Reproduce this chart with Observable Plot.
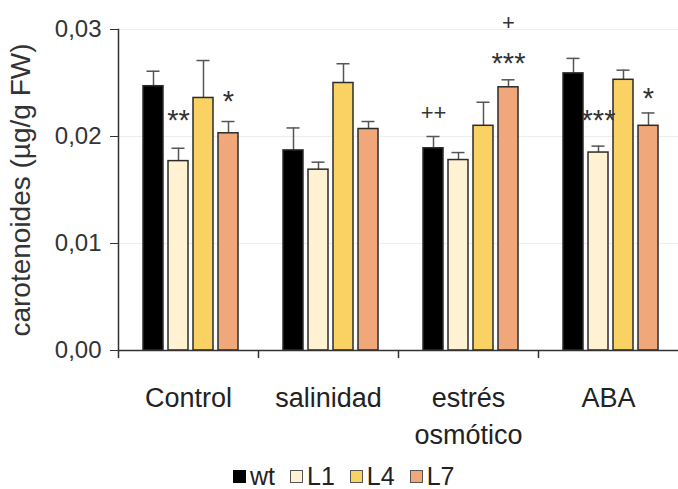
<!DOCTYPE html>
<html><head><meta charset="utf-8">
<script src="https://cdn.jsdelivr.net/npm/d3@7"></script>
<script src="https://cdn.jsdelivr.net/npm/@observablehq/plot@0.6"></script>
<style>
body{margin:0;background:#fff;font-family:"Liberation Sans",Arial,sans-serif;}
#legend{display:flex;align-items:center;padding-left:233px;height:32px;margin-top:5px;font-size:25px;color:#222;}
.item{display:flex;align-items:center;margin-right:15px;}
.sw{width:11px;height:11px;border:1.5px solid #333;margin-right:4px;}
</style></head><body><div id="chart"></div><div id="legend"></div><script>
const categories = ["Control", "salinidad", "estrés osmótico", "ABA"];
const series = ["wt", "L1", "L4", "L7"];
const colors = ["#000000", "#FFF2D3", "#FAD264", "#F0A87A"];
const wt = [0.0247, 0.0187, 0.0189, 0.0259];
const L1 = [0.0177, 0.0169, 0.0178, 0.0185];
const L4 = [0.0236, 0.0250, 0.0210, 0.0253];
const L7 = [0.0203, 0.0207, 0.0246, 0.0210];
const wtErr = [0.0014, 0.0021, 0.0011, 0.0014];
const L1Err = [0.0012, 0.0007, 0.0007, 0.0006];
const L4Err = [0.0035, 0.0018, 0.0022, 0.0009];
const L7Err = [0.0011, 0.0007, 0.0007, 0.0012];
const yTicks = [0, 0.01, 0.02, 0.03];
const annotCategory = ["Control", "Control", "estrés osmótico", "estrés osmótico", "estrés osmótico", "ABA", "ABA"];
const annotSeries = ["L1", "L7", "wt", "L7", "L7", "L1", "L7"];
const annotLabel = ["**", "*", "++", "***", "+", "***", "*"];
const annotValue = [0.0220, 0.0238, 0.0222, 0.0274, 0.0306, 0.0220, 0.0241];

const vals = [wt, L1, L4, L7];
const errs = [wtErr, L1Err, L4Err, L7Err];
const rows = [];
categories.forEach((c, i) => series.forEach((s, j) => rows.push({category: c, series: s, value: vals[j][i], err: errs[j][i]})));
const annots = annotLabel.map((l, i) => ({category: annotCategory[i], series: annotSeries[i], label: l, value: annotValue[i]}));

const W = 678, H = 455, ML = 118;
const loc = d3.formatLocale({decimal: ",", thousands: "."});
const fmt = loc.format(".2f");
const half = (W - ML) / categories.length / 2;

const chart = Plot.plot({
  width: W, height: H, marginLeft: ML, marginRight: 0, marginTop: 29, marginBottom: H - 350,
  style: {fontFamily: "'Liberation Sans', Arial, sans-serif", background: "white", overflow: "visible"},
  fx: {domain: categories, padding: 0, label: null},
  x: {domain: series, paddingInner: 0.2, paddingOuter: 0.9, align: 0.55, axis: null},
  y: {domain: [0, 0.03]},
  color: {domain: series, range: colors},
  marks: [
    Plot.ruleY([0.01, 0.02, 0.03], {stroke: "#eeeeee", strokeWidth: 1}),
    Plot.ruleX(rows, {fx: "category", x: "series", y1: "value", y2: d => d.value + d.err, stroke: "#555", strokeWidth: 1.5}),
    Plot.tickY(rows, {fx: "category", x: "series", y: d => d.value + d.err, stroke: "#555", strokeWidth: 1.5, insetLeft: 3.5, insetRight: 3.5}),
    Plot.barY(rows, {fx: "category", x: "series", y: "value", fill: "series", stroke: "#2b2b2b", strokeWidth: 1.5}),
    Plot.ruleY([0], {stroke: "#333", strokeWidth: 1.5}),
    Plot.frame({anchor: "left", fx: [categories[0]], stroke: "#333", strokeWidth: 1.5}),
    Plot.axisY({ticks: yTicks, tickFormat: fmt, tickSize: 8, tickPadding: 9, fontSize: 24, stroke: "#333", fill: "#333", label: null}),
    Plot.axisY({ticks: [], label: "carotenoides (µg/g FW)", labelAnchor: "center", labelArrow: "none", labelOffset: 108, fontSize: 28, fill: "#333"}),
    Plot.axisFx({anchor: "bottom", tickSize: 8, tickFormat: () => "", dx: -half, stroke: "#333", strokeWidth: 1.5, label: null}),
    Plot.axisFx({anchor: "bottom", tickSize: 0, tickPadding: 30, fontSize: 27, lineHeight: 1.37, tickFormat: d => d.replace(" ", "\n"), fill: "#222", label: null}),
    Plot.text(annots.filter(d => d.label.includes("*")), {fx: "category", x: "series", y: "value", text: "label", fontSize: 29, dy: 6, fill: "#333"}),
    Plot.text(annots.filter(d => d.label.includes("+")), {fx: "category", x: "series", y: "value", text: "label", fontSize: 22, fill: "#333"})
  ]
});
document.getElementById("chart").appendChild(chart);

const legend = d3.select("#legend");
series.forEach((s, i) => {
  const it = legend.append("div").attr("class", "item");
  it.append("div").attr("class", "sw").style("background", colors[i]).style("border-color", i === 0 ? "#000" : "#555");
  it.append("span").text(s);
});
</script></body></html>
